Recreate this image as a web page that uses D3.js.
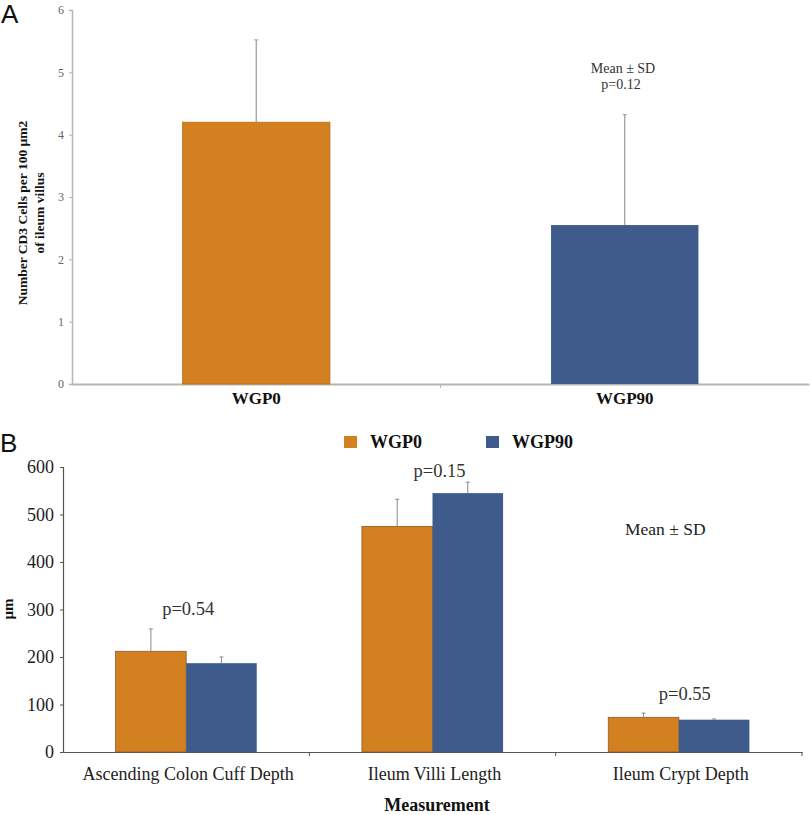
<!DOCTYPE html>
<html><head><meta charset="utf-8">
<script src="https://cdn.jsdelivr.net/npm/d3@7"></script>
<style>body{margin:0;background:#fff}svg{display:block}</style>
</head><body>
<svg id="c" width="810" height="815"></svg>
<script>
// ---- Panel A data ----
const groupsA = ["WGP0", "WGP90"];
const meanA = [4.2, 2.55];
const sdA = [1.32, 1.77];
const ticksA = [0, 1, 2, 3, 4, 5, 6];

// ---- Panel B data ----
const categoriesB = ["Ascending Colon Cuff Depth", "Ileum Villi Length", "Ileum Crypt Depth"];
const seriesB = ["WGP0", "WGP90"];
const wgp0Mean = [212, 475, 73];
const wgp0SD = [47, 57, 9];
const wgp90Mean = [187, 545, 68];
const wgp90SD = [13, 23, 1.5];
const pValuesB = ["p=0.54", "p=0.15", "p=0.55"];
const ticksB = [0, 100, 200, 300, 400, 500, 600];

const colors = {WGP0: "#D38020", WGP90: "#3E5B8C"};
const serif = "'Liberation Serif', 'Times New Roman', serif";
const svg = d3.select("#c");

// ================= Panel A =================
const xA = d3.scaleBand().domain(groupsA).range([72, 809]).padding(0);
const yA = d3.scaleLinear().domain([0, 6]).range([384, 10]);
const gA = svg.append("g");

gA.append("text").attr("x", 1).attr("y", 23).attr("font-family", "'Liberation Sans', Arial, sans-serif")
  .attr("font-size", 26).attr("fill", "#111").text("A");

const yAxA = gA.append("g").attr("transform", "translate(72,0)")
  .call(d3.axisLeft(yA).tickValues(ticksA).tickSize(3).tickFormat(d3.format("d")));
yAxA.select(".domain").attr("stroke", "#b5b5b5").attr("stroke-width", 1.5);
yAxA.selectAll(".tick line").attr("stroke", "#b5b5b5");
yAxA.selectAll(".tick text").attr("font-family", serif).attr("font-size", 12).attr("fill", "#666").attr("x", -8);

const xAxA = gA.append("g").attr("transform", "translate(0,384)")
  .call(d3.axisBottom(xA).tickSize(0).tickFormat(""));
xAxA.select(".domain").attr("stroke", "#b5b5b5").attr("stroke-width", 2);
xAxA.selectAll(".tick").remove();
gA.selectAll(".bt").data(groupsA.slice(1)).enter().append("line")
  .attr("x1", d => xA(d)).attr("x2", d => xA(d)).attr("y1", 384).attr("y2", 388)
  .attr("stroke", "#b5b5b5");
gA.selectAll(".cl").data(groupsA).enter().append("text")
  .attr("x", d => xA(d) + xA.bandwidth() / 2).attr("y", 404)
  .attr("text-anchor", "middle").attr("font-family", serif).attr("font-weight", "bold")
  .attr("font-size", 17).attr("fill", "#111").text(d => d);

const bwA = xA.bandwidth() * 0.4;
gA.selectAll(".bar").data(groupsA).enter().append("rect")
  .attr("x", d => xA(d) + xA.bandwidth() / 2 - bwA / 2)
  .attr("width", bwA)
  .attr("y", (d, i) => yA(meanA[i]))
  .attr("height", (d, i) => yA(0) - yA(meanA[i]))
  .attr("fill", d => colors[d])
  .attr("stroke", (d) => d === "WGP0" ? "#b86e1c" : "none").attr("stroke-width", 0.8);

gA.selectAll(".err").data(groupsA).enter().append("line")
  .attr("x1", d => xA(d) + xA.bandwidth() / 2).attr("x2", d => xA(d) + xA.bandwidth() / 2)
  .attr("y1", (d, i) => yA(meanA[i])).attr("y2", (d, i) => yA(meanA[i] + sdA[i]))
  .attr("stroke", "#999").attr("stroke-width", 1.2);
gA.selectAll(".cap").data(groupsA).enter().append("line")
  .attr("x1", d => xA(d) + xA.bandwidth() / 2 - 2).attr("x2", d => xA(d) + xA.bandwidth() / 2 + 2)
  .attr("y1", (d, i) => yA(meanA[i] + sdA[i])).attr("y2", (d, i) => yA(meanA[i] + sdA[i]))
  .attr("stroke", "#999").attr("stroke-width", 1);

const ytA = gA.append("text").attr("transform", "translate(27,213) rotate(-90)")
  .attr("text-anchor", "middle").attr("font-family", serif).attr("font-weight", "bold")
  .attr("font-size", 13.5).attr("fill", "#111");
ytA.append("tspan").attr("x", 0).attr("y", 0).text("Number CD3 Cells per 100 µm2");
ytA.append("tspan").attr("x", 0).attr("y", 17).text("of ileum villus");

gA.append("text").attr("x", 623).attr("y", 73).attr("text-anchor", "middle")
  .attr("font-family", serif).attr("font-size", 14).attr("fill", "#333").text("Mean ± SD");
gA.append("text").attr("x", 621).attr("y", 89).attr("text-anchor", "middle")
  .attr("font-family", serif).attr("font-size", 14).attr("fill", "#333").text("p=0.12");

// ================= Panel B =================
const x0 = d3.scaleBand().domain(categoriesB).range([63, 802]).padding(0);
const groupW = x0.bandwidth() * 0.573;
const x1 = d3.scaleBand().domain(seriesB).range([0, groupW]).padding(0);
const yB = d3.scaleLinear().domain([0, 600]).range([752, 467]);
const gB = svg.append("g");

gB.append("text").attr("x", 0).attr("y", 452).attr("font-family", "'Liberation Sans', Arial, sans-serif")
  .attr("font-size", 26).attr("fill", "#111").text("B");

const yAxB = gB.append("g").attr("transform", "translate(63,0)")
  .call(d3.axisLeft(yB).tickValues(ticksB).tickSize(3).tickFormat(d3.format("d")));
yAxB.select(".domain").attr("stroke", "#555").attr("stroke-width", 1.2);
yAxB.selectAll(".tick line").attr("stroke", "#555");
yAxB.selectAll(".tick text").attr("font-family", serif).attr("font-size", 18).attr("fill", "#222").attr("x", -9);

const xAxB = gB.append("g").attr("transform", "translate(0,752)")
  .call(d3.axisBottom(x0).tickSize(0).tickFormat(""));
xAxB.select(".domain").attr("stroke", "#555").attr("stroke-width", 1.2);
xAxB.selectAll(".tick").remove();
gB.selectAll(".bt").data(categoriesB.slice(1).concat(["end"])).enter().append("line")
  .attr("x1", d => d === "end" ? 802 : x0(d)).attr("x2", d => d === "end" ? 802 : x0(d))
  .attr("y1", 752).attr("y2", 756).attr("stroke", "#555");

gB.selectAll(".cl").data(categoriesB).enter().append("text")
  .attr("x", d => x0(d) + x0.bandwidth() / 2 + 2).attr("y", 780)
  .attr("text-anchor", "middle").attr("font-family", serif).attr("font-size", 18)
  .attr("fill", "#222").text(d => d);
gB.append("text").attr("x", 437).attr("y", 811).attr("text-anchor", "middle")
  .attr("font-family", serif).attr("font-weight", "bold").attr("font-size", 18).attr("fill", "#111")
  .text("Measurement");
gB.append("text").attr("transform", "translate(13,609) rotate(-90)").attr("text-anchor", "middle")
  .attr("font-family", serif).attr("font-weight", "bold").attr("font-size", 15).attr("fill", "#111")
  .text("µm");

const rowsB = categoriesB.map((c, i) => ({
  cat: c,
  vals: [
    {s: "WGP0", m: wgp0Mean[i], sd: wgp0SD[i]},
    {s: "WGP90", m: wgp90Mean[i], sd: wgp90SD[i]}
  ]
}));
const grp = gB.selectAll(".grp").data(rowsB).enter().append("g")
  .attr("transform", d => `translate(${x0(d.cat) + (x0.bandwidth() - groupW) / 2},0)`);
grp.selectAll("rect").data(d => d.vals).enter().append("rect")
  .attr("x", d => x1(d.s)).attr("width", x1.bandwidth())
  .attr("y", d => yB(d.m)).attr("height", d => yB(0) - yB(d.m))
  .attr("fill", d => colors[d.s])
  .attr("stroke", d => d.s === "WGP0" ? "#8a5a2e" : "none").attr("stroke-width", 0.8);
grp.selectAll(".e").data(d => d.vals).enter().append("line")
  .attr("x1", d => x1(d.s) + x1.bandwidth() / 2).attr("x2", d => x1(d.s) + x1.bandwidth() / 2)
  .attr("y1", d => yB(d.m)).attr("y2", d => yB(d.m + d.sd))
  .attr("stroke", "#888").attr("stroke-width", 1);
grp.selectAll(".c").data(d => d.vals).enter().append("line")
  .attr("x1", d => x1(d.s) + x1.bandwidth() / 2 - 2).attr("x2", d => x1(d.s) + x1.bandwidth() / 2 + 2)
  .attr("y1", d => yB(d.m + d.sd)).attr("y2", d => yB(d.m + d.sd))
  .attr("stroke", "#888").attr("stroke-width", 1);

const pY = [615, 477, 700];
const pDx = [2, 7, 6];
gB.selectAll(".pv").data(pValuesB).enter().append("text")
  .attr("x", (d, i) => x0(categoriesB[i]) + x0.bandwidth() / 2 + pDx[i])
  .attr("y", (d, i) => pY[i]).attr("text-anchor", "middle")
  .attr("font-family", serif).attr("font-size", 18.5).attr("fill", "#333").text(d => d);

gB.append("text").attr("x", 625).attr("y", 535).attr("font-family", serif).attr("font-size", 17.5)
  .attr("fill", "#222").text("Mean ± SD");

const legX = [344, 486];
const leg = gB.selectAll(".leg").data(seriesB).enter().append("g")
  .attr("transform", (d, i) => `translate(${legX[i]},436)`);
leg.append("rect").attr("width", 13).attr("height", 12).attr("fill", d => colors[d]);
leg.append("text").attr("x", 26).attr("y", 12).attr("font-family", serif).attr("font-weight", "bold")
  .attr("font-size", 18).attr("fill", "#111").text(d => d);
</script>
</body></html>
